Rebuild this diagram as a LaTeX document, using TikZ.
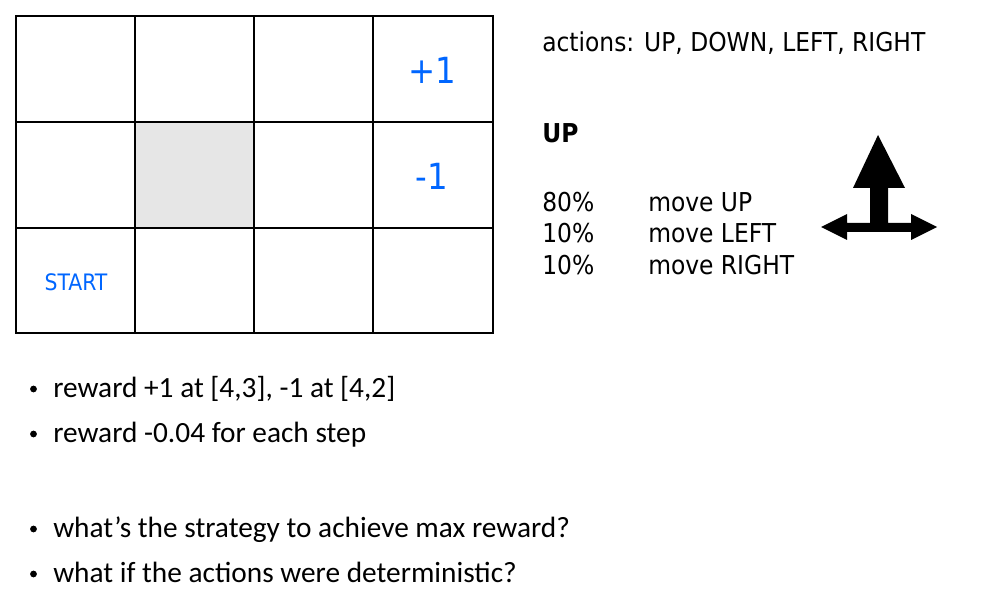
\documentclass[tikz,border=0pt]{standalone}
\usepackage{fontspec}
\setmainfont{Carlito}
\newfontfamily\tahomafont{DejaVu Sans Condensed}
\definecolor{cellblue}{RGB}{0,102,255}
\definecolor{wallgray}{RGB}{230,230,230}

\begin{document}
\begin{tikzpicture}[x=0.75pt,y=-0.75pt,
    txt/.style={anchor=base west,inner sep=0pt},
    side/.style={txt,font=\tahomafont\fontsize{19.5}{22}\selectfont},
    bullet/.style={txt,font=\fontsize{22}{26}\selectfont}]
  \useasboundingbox (0,0) rectangle (1006,595);

  % Wall
  \fill[wallgray] (135,122) rectangle (254,228);

  % Grid
  \foreach \x in {135,254,373}
    \draw[line width=1.1pt] (\x,16) -- (\x,333);
  \foreach \y in {122,228}
    \draw[line width=1.1pt] (16,\y) -- (493,\y);
  \draw[line width=2.2pt] (16,16) rectangle (493,333);

  % Cell labels
  \node[cellblue,font=\tahomafont\fontsize{27}{30}\selectfont,inner sep=0pt] (plus) at (432,70) {+1};
  \node[cellblue,font=\tahomafont\fontsize{27}{30}\selectfont,inner sep=0pt] (minus) at (432,176) {-1};
  \node[cellblue,font=\tahomafont\fontsize{17}{20}\selectfont,inner sep=0pt] (start) at (76,282) {START};

  % Actions
  \node[side] (actions) at (542,52) {actions: UP, DOWN, LEFT, RIGHT};
  \node[side,font=\tahomafont\bfseries\fontsize{19.5}{22}\selectfont] (up) at (542,143) {UP};
  \node[side] (p1) at (542,212) {80\%};
  \node[side] (p2) at (542,243) {10\%};
  \node[side] (p3) at (542,274) {10\%};
  \node[side] (m1) at (648,212) {move UP};
  \node[side] (m2) at (648,243) {move LEFT};
  \node[side] (m3) at (648,274) {move RIGHT};

  % Arrow
  \fill (878,135) -- (905,188) -- (888,188) -- (888,223) -- (911,223) -- (911,214)
    -- (937,227) -- (911,240) -- (911,232) -- (847,232) -- (847,240) -- (821,227)
    -- (847,214) -- (847,223) -- (870,223) -- (870,188) -- (853,188) -- cycle;

  % Bullets
  \foreach \y/\t [count=\i] in {397/{reward +1 at [4,3], -1 at [4,2]},
      442/{reward -0.04 for each step},
      537/{what’s the strategy to achieve max reward?},
      582/{what if the actions were deterministic?}} {
    \fill (33.5,\y-8) circle (3.4);
    \node[bullet] (b\i) at (53,\y) {\t};
  }
\end{tikzpicture}
\end{document}
